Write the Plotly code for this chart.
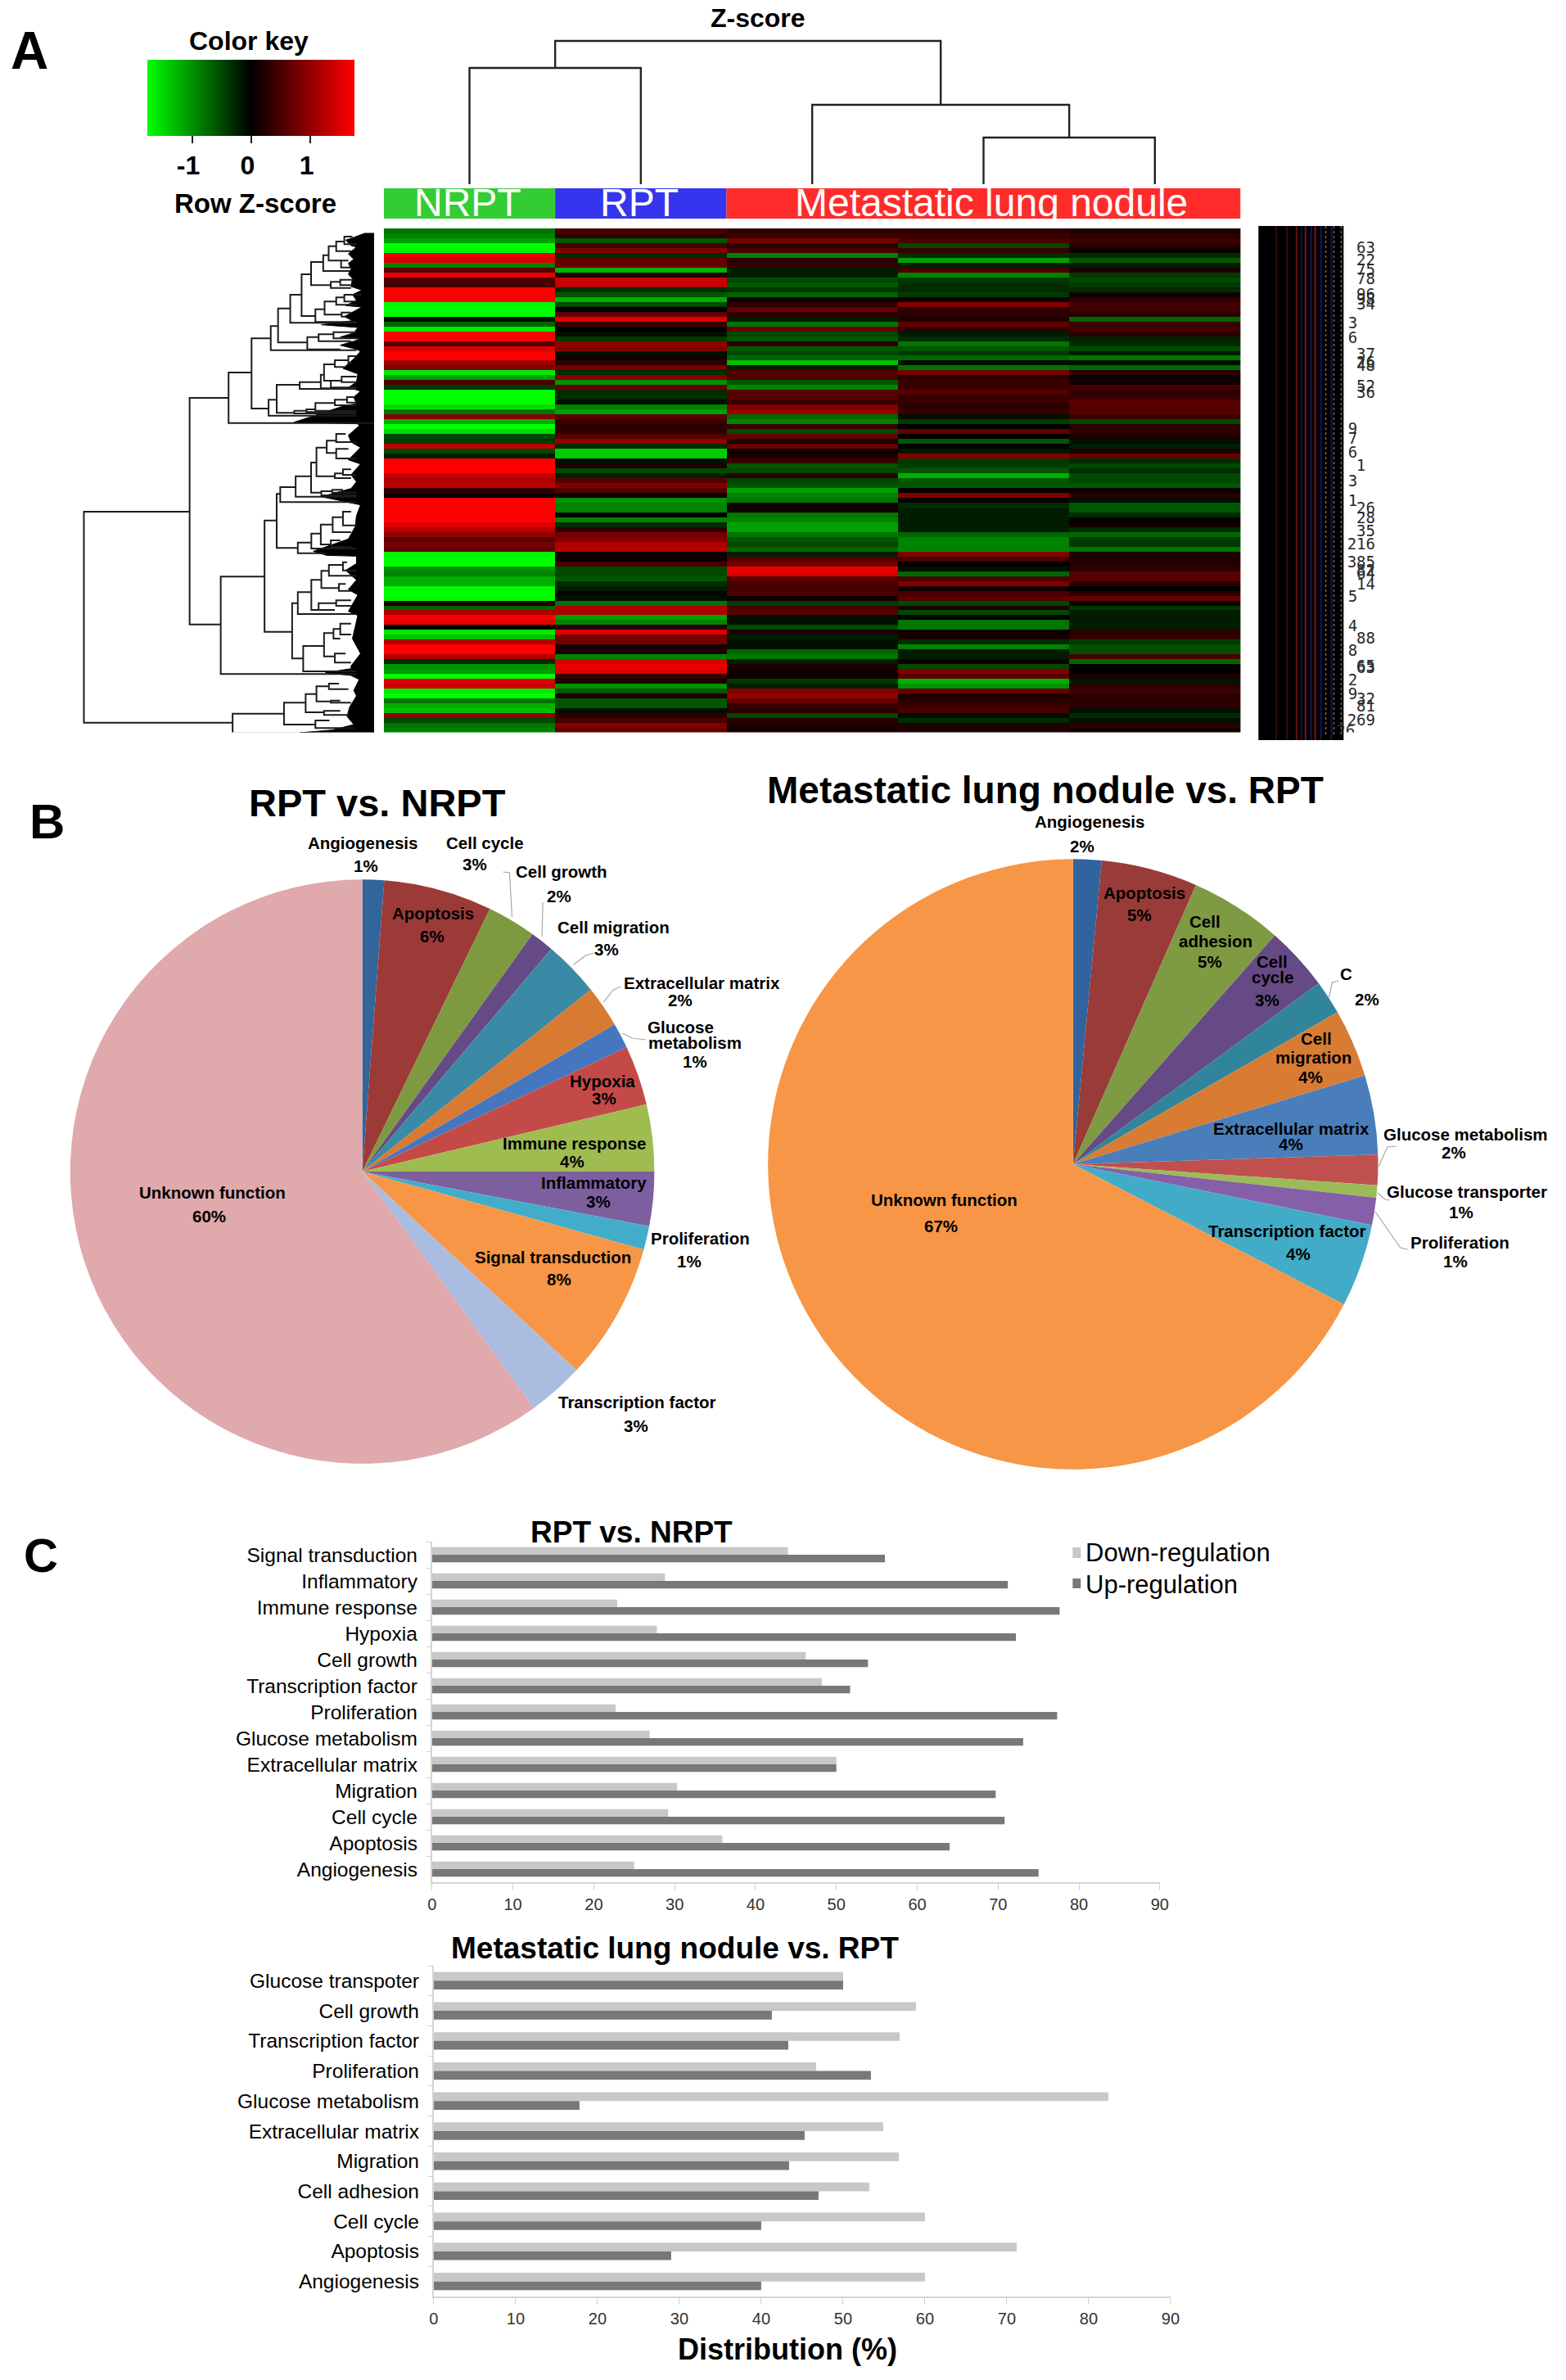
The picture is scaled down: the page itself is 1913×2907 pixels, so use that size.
import plotly.graph_objects as go

W, H = 1913, 2907
FONT = "Liberation Sans"

# ---------- Panel A: heat map (row Z-scores) ----------
columns = ["NRPT", "RPT", "Met 1", "Met 2", "Met 3"]
nrpt = [-.8,-.9,
 -1.1,-1.75,-1.7,1.6,1.5,-.9,.6,1.6,.5,.5,1.75,1.75,1.7,-1.7,-1.75,-1.75,-.1,-.7,-1.6,1.7,1.7,.6,1.5,1.75,1.75,1.1,.9,-1.6,-1.1,.5,-.4,-1.75,-1.75,-1.75,-1.5,-.8,
 .9,-1.2,-1.75,-1.5,-.5,-.4,1.3,-.5,-.2,1.75,1.75,1.75,1.3,1.2,1.3,.3,.1,1.75,1.75,1.75,1.7,1.75,1.5,1.3,1.0,.6,.8,.7,-1.7,-1.75,-1.75,-1.0,-.9,-1.2,-1.2,-1.7,
 -1.75,-1.7,.2,-.7,1.2,1.7,1.6,0,-1.6,-1.3,1.2,1.75,1.75,1.2,-.3,-1.0,-1.1,-1.75,1.5,1.4,-1.6,-1.75,-.8,-1.2,-1.3,1.0,-.5,-.8,-.9]
rpt = [.5,.3,
 -.6,.45,.9,-.3,.7,.7,-1.2,.2,1.4,1.3,-.3,-.6,-1.2,-.5,0,.7,1.5,.4,0,-.1,-.4,1.0,.9,-.1,.1,.3,.8,-.3,.9,-1.0,.7,-.3,-.3,-.1,-.9,-1.1,
 .6,.4,.3,.3,.6,1.0,-.3,-1.4,-1.4,-.1,.2,-.5,-.2,.6,.9,.6,.1,-1.0,-.9,-.9,0,-.9,-.3,.3,.8,.9,1.2,1.2,.1,.1,.5,-.5,-.5,-.6,-.3,-.2,
 -.05,-.1,-.8,1.2,1.2,-1.1,-.9,.3,1.5,.8,.8,.15,.15,-.9,1.5,1.6,1.5,.4,.15,-1.0,-.6,.2,-.6,-.6,-.1,.3,.5,.9,.7]
met1 = [.3,.4,
 .8,.3,.5,-.9,.3,.4,-.2,-.2,-.5,-.6,-.4,-.7,.1,.3,.7,.3,-.2,-.8,.7,-.5,-.6,.3,-.6,-.5,-.7,-1.3,-.2,.6,.5,-.6,-.9,.6,.6,.4,.9,1.0,
 -.7,-.9,.4,-.5,.7,.2,.7,.1,.15,.4,-.6,-.5,.3,-.5,-.6,-1.1,-.9,-.8,.1,.1,-.8,-.9,-1.1,-1.1,-.8,-.6,-.5,-.7,-.2,.6,.8,1.6,1.5,.6,.5,.5,
 .5,.1,-.4,.5,.6,-.1,-.1,-.5,.2,-.2,-.1,-.1,-.7,-.8,-.2,.2,.1,.1,-.4,-.2,.9,1.0,.7,.4,.3,-.5,.3,.15,.15]
met2 = [.3,.4,
 .5,-.5,.4,-.3,-1.1,-.2,.5,-.9,-.4,-.3,-.3,-.4,.1,.9,.3,.3,.2,.7,.3,-.2,-.3,-.8,-.6,-.4,-.7,-.1,-.8,.8,.3,.4,.4,.6,.4,.4,.3,.4,
 -.1,-.4,0,.7,0,-.6,0,-.15,.9,-.4,-.4,-.6,-1.2,-.6,-.6,0,.9,0,-.3,-.2,-.2,-.2,-.2,-.2,-.7,-.9,-.9,-.9,.9,.5,0,-.1,-.7,.5,.9,.1,
 .5,.6,-.5,.2,-.5,0,-.8,-.8,.1,.15,-.3,-.9,-.2,-.2,.1,-.5,.9,.6,-1.2,-1.0,.7,.2,.3,.4,.5,-.1,-.3,.2,.2]
met3 = [.2,.3,
 .4,.25,.1,-.3,-.6,-.2,.2,-.4,-.5,-.4,-.3,.1,.3,.45,.45,.3,-.7,.4,.45,.3,-.25,-.3,-.5,-.2,-.8,-.1,-.7,.3,.1,.1,.5,.3,.4,.6,.6,.6,
 .4,-.5,.3,.3,.2,-.1,-.2,.2,.7,-.3,-.5,-.3,-.5,-.5,-.6,.1,.3,-.1,-.6,-.6,-.3,.05,.1,-.3,-.7,-.4,-.4,-.8,.2,.2,.25,.3,.6,.6,.3,0,
 .3,.7,.1,-.4,-.2,-.2,-.2,-.2,.3,.35,-.4,-.55,-.55,.5,-.7,0,0,.2,-.15,.3,.4,.3,.3,.3,-.1,-.3,-.1,.3,.1]
assert all(len(c) == 103 for c in (nrpt, rpt, met1, met2, met3))

group_names = ["NRPT", "RPT", "Metastatic lung nodule"]
group_widths = [1, 1, 3]
group_starts = [-0.5, 0.5, 1.5]
group_colors = ["#33cc33", "#3535ee", "#ff2b2b"]

# column dendrogram: merge heights and their column positions
col_merge_height = [142, 57, 97, 175]
col_merge_left = [0, 3, 2, 0.5]
col_merge_right = [1, 4, 3.5, 2.75]
col_left_child = [0, 0, 0, 142]
col_right_child = [0, 0, 57, 97]

# row dendrogram links: parent, top, bottom, top child, bottom child
row_links = [
 (52,1020,1793,443,602),(443,603,1433,587,558),(587,510,695,672,1125),(672,385,642,743,735),
 (743,340,428,770,1060),(770,275,400,815,878),(815,225,328,857,1060),(857,150,303,892,908),
 (892,105,190,937,965),(937,80,138,957,1040),(957,47,100,985,1003),(985,30,65,1015,1040),
 (1015,12,40,1045,1060),(1003,100,125,1030,1040),(965,178,200,1000,1040),(1000,170,190,1050,1040),
 (908,278,325,942,1060),(942,250,298,985,1005),(985,235,262,1015,1060),(1015,225,250,1080,1060),
 (1005,290,305,1040,1020),(878,380,425,920,1000),(920,370,395,975,1040),(975,362,385,1060,1070),
 (735,610,668,765,1060),(765,555,658,850,830),(850,545,570,928,1060),(928,518,568,940,1060),
 (940,480,540,980,965),(980,465,490,1030,1015),(965,540,565,1005,1060),(1005,525,545,1060,1060),
 (1030,450,475,1060,1045),(830,650,660,875,1060),(875,645,655,908,1060),(908,622,650,980,1060),
 (980,610,630,1025,1060),(1025,600,620,1050,1060),
 (558,1258,1615,720,1060),(720,1052,1460,765,822),(765,955,1153,778,843),(778,930,985,835,1060),
 (835,890,965,892,1060),(892,840,950,912,930),(912,785,890,950,980),(950,760,805,985,985),
 (985,735,765,1020,1060),(985,790,825,1030,1060),(980,880,897,1010,1040),(1010,865,885,1040,1060),
 (930,945,960,970,1060),(970,940,950,1010,1060),(843,1133,1172,893,950),(893,1100,1155,928,1060),
 (928,1067,1140,972,965),(972,1040,1095,1010,1040),(1010,1020,1070,1040,1060),(965,1125,1150,1000,1040),
 (822,1355,1558,843,863),(843,1315,1395,893,1060),(893,1270,1380,930,920),(930,1237,1300,958,995),
 (958,1215,1255,1010,1060),(1010,1205,1235,1025,1060),(995,1285,1310,1020,1040),(920,1355,1380,985,980),
 (985,1345,1365,1040,1040),(863,1512,1605,940,1060),(940,1465,1550,975,980),(975,1450,1485,1000,1000),
 (1000,1430,1470,1040,1040),(980,1540,1573,1020,1040),
 (602,1760,1832,792,1125),(792,1720,1800,872,908),(872,1688,1755,912,940),(912,1660,1715,958,965),
 (958,1650,1670,995,1030),(965,1712,1720,1000,1040),(940,1750,1765,1000,1030),(908,1785,1813,960,1050),
]
# jagged outline of the merged leaf branches
leaf_edge = [
 (1125,0),(1090,0),(1050,15),(1020,25),(1040,45),(1060,50),(1030,75),(1050,95),(1030,110),(1040,130),
 (1030,150),(1045,165),(1040,195),(1080,208),(1045,225),(1060,245),(1020,265),(1080,270),(1015,305),
 (1045,320),(930,335),(1065,345),(1050,365),(1000,380),(1075,388),(1000,410),(1060,425),(1075,432),
 (1050,460),(1010,495),(1065,515),(1060,545),(1030,565),(1075,578),(1050,600),(1060,625),(1020,630),
 (900,670),(830,692),(1065,698),(1070,705),(1030,740),(1040,765),(1075,785),(1030,830),(1075,845),
 (1040,885),(1060,910),(1040,935),(930,965),(1060,990),(1075,995),(1060,1035),(1055,1075),(1030,1120),
 (900,1165),(950,1180),(1060,1183),(1060,1210),(1020,1235),(1060,1270),(1030,1305),(1065,1325),
 (1030,1385),(1065,1400),(1055,1445),(1045,1485),(1075,1540),(1040,1585),(1040,1595),(945,1610),
 (1040,1620),(1070,1635),(1050,1675),(1060,1695),(1035,1735),(1025,1770),(1050,1800),(970,1820),
 (850,1830),(1125,1833),
]
# row labels that stick out of the overprinted label column
row_label_text = ["63","22","75","78","96","98","34","37","26","48","52","36","1","26","28","35","216",
                  "385","82","64","14","88","65","63","32","81","269","26",
                  "3","6","9","7","6","3","1","5","4","8","2","9"]
row_label_rows = [3.8,6.3,8.3,10,13.3,14.3,15.2,25.5,27.2,27.9,32,33.3,48.2,57,59,61.6,64.3,68,
                  69.7,70.3,72.5,83.5,89.3,89.6,96,97.5,100.2,102.5,
                  19.2,22.1,40.7,42.7,45.6,51.5,55.4,75,81,86,92,95]
row_label_right = [1689,1689,1689,1689,1689,1689,1689,1689,1689,1689,1689,1689,1677,1689,1689,1689,1689,
                   1689,1689,1689,1689,1689,1689,1689,1689,1689,1689,1664,
                   1667,1667,1667,1667,1667,1667,1667,1667,1667,1667,1667,1667]

# ---------- Panel B: pies ----------
pie1_labels = ["Angiogenesis","Apoptosis","Cell cycle","Cell growth","Cell migration","Extracellular matrix",
               "Glucose metabolism","Hypoxia","Immune response","Inflammatory","Proliferation",
               "Signal transduction","Transcription factor","Unknown function"]
pie1_values = [1.2,6.0,2.7,1.3,3.1,2.3,1.4,3.3,3.7,3.0,1.3,7.6,3.1,60.0]
pie1_colors = ["#31659c","#9c3a38","#7e9a40","#664a85","#3a8aa6","#d87a32","#4477c0","#c44a48",
               "#9fbc50","#7d5fa0","#42adc9","#f79646","#aabce0","#e0a9ab"]
pie2_labels = ["Angiogenesis","Apoptosis","Cell adhesion","Cell cycle","C","Cell migration","Extracellular matrix",
               "Glucose metabolism","Glucose transporter","Proliferation","Transcription factor","Unknown function"]
pie2_values = [1.5,5.1,4.9,3.4,1.8,3.6,4.2,1.6,.65,1.45,4.4,67.4]
pie2_colors = ["#31649c","#983b39","#7e9a42","#654a85","#30859c","#d87c34","#4a7ebb","#c0504d",
               "#9bbb59","#8560a8","#42acc8","#f79646"]

pie_texts = [
 ("Angiogenesis",441,1029),("1%",445,1057),("Cell cycle",592,1029),("3%",579,1055),("Cell growth",686,1065),
 ("2%",683,1094),("Apoptosis",528,1115),("6%",527,1143),("Cell migration",750,1132),("3%",742,1159),
 ("Extracellular matrix",859,1201),("2%",832,1222),("Glucose",833,1255),("metabolism",851,1273),("1%",851,1296),
 ("Hypoxia",737,1320),("3%",739,1341),("Immune response",702,1396),("4%",699,1418),("Inflammatory",726,1444),
 ("3%",732,1468),("Proliferation",857,1512),("1%",844,1540),("Signal transduction",676,1535),("8%",683,1563),
 ("Transcription factor",779,1713),("3%",778,1741),("Unknown function",256,1456),("60%",252,1485),
 ("Angiogenesis",1337,1004),("2%",1328,1033),("Apoptosis",1404,1090),("5%",1398,1117),("Cell",1479,1126),
 ("adhesion",1492,1149),("5%",1485,1175),("Cell",1562,1174),("cycle",1562,1194),("3%",1556,1221),("C",1653,1189),
 ("2%",1679,1220),("Cell",1616,1269),("migration",1613,1291),("4%",1609,1316),("Extracellular matrix",1586,1378),
 ("4%",1585,1398),("Glucose metabolism",1800,1385),("2%",1786,1407),("Glucose transporter",1802,1455),
 ("1%",1795,1481),("Proliferation",1793,1517),("1%",1788,1540),("Transcription factor",1581,1503),("4%",1594,1531),
 ("Unknown function",1158,1465),("67%",1154,1497),
]
leader_lines = [
 [(614,1065),(622,1066),(625,1120)],[(663,1102),(662,1144)],[(726,1164),(716,1167),(701,1178)],
 [(759,1205),(750,1209),(738,1224)],[(790,1270),(773,1268),(761,1262)],[(1644,1198),(1636,1200),(1632,1218)],
 [(1715,1400),(1704,1401),(1693,1425)],[(1707,1466),(1701,1465),(1692,1457)],[(1729,1526),(1720,1524),(1689,1480)],
]

# ---------- Panel C: bars ----------
bar1_categories = ["Signal transduction","Inflammatory","Immune response","Hypoxia","Cell growth","Transcription factor",
                   "Proliferation","Glucose metabolism","Extracellular matrix","Migration","Cell cycle","Apoptosis","Angiogenesis"]
bar1_down = [44,28.8,22.9,27.8,46.2,48.2,22.7,26.9,50,30.3,29.2,35.9,25]
bar1_up = [56,71.2,77.6,72.2,53.9,51.7,77.3,73.1,50,69.7,70.8,64,75]
bar2_categories = ["Glucose transpoter","Cell growth","Transcription factor","Proliferation","Glucose metabolism",
                   "Extracellular matrix","Migration","Cell adhesion","Cell cycle","Apoptosis","Angiogenesis"]
bar2_down = [50,58.9,56.9,46.7,82.4,54.9,56.8,53.2,60,71.2,60]
bar2_up = [50,41.3,43.3,53.4,17.8,45.3,43.4,47,40,29,40]
LIGHT, DARK = "#c8c8c8", "#787878"


def dx(a, b):
    return [a / W, b / W]


def dy(top, bottom):
    return [1 - bottom / H, 1 - top / H]


def to_row(y_pic):
    """picture reading of the dendrogram -> heat-map row position"""
    return (285 + y_pic / 3 - 279) / (615.5 / 103) - 0.5


fig = go.Figure()

fig.add_trace(go.Heatmap(
    z=[list(r) for r in zip(nrpt, rpt, met1, met2, met3)], x=list(range(5)), y=list(range(103)),
    xaxis="x", yaxis="y", zmin=-1.75, zmax=1.75,
    colorscale=[[0, "#00ff00"], [0.5, "#000000"], [1, "#ff0000"]],
    colorbar=dict(orientation="h", x=303.5 / W, xanchor="center", y=1 - 73 / H, yanchor="top",
                  lenmode="pixels", len=253, thicknessmode="pixels", thickness=93, xpad=0, ypad=0,
                  outlinewidth=0, tickvals=[-1, 0, 1], ticktext=["-1&nbsp;", "0&nbsp;", "1&nbsp;"], ticks="outside",
                  ticklen=9, tickwidth=2, tickcolor="#222",
                  tickfont=dict(family=FONT, size=32, color="black", weight=700)),
))

# column dendrogram
cx, cy = [], []
for h, l, r, lc, rc in zip(col_merge_height, col_merge_left, col_merge_right, col_left_child, col_right_child):
    cx += [l, l, r, r, None]
    cy += [lc, h, h, rc, None]
fig.add_trace(go.Scatter(x=cx, y=cy, xaxis="x2", yaxis="y2", mode="lines", line=dict(color="#222", width=2.4),
                         hoverinfo="skip", showlegend=False))

# group colour bar
fig.add_trace(go.Bar(x=group_widths, base=group_starts, y=[0, 0, 0], width=1, orientation="h", xaxis="x3", yaxis="y3",
                     marker=dict(color=group_colors, line=dict(width=0)), showlegend=False, hovertext=group_names))

# row dendrogram
rx, ry = [], []
for p, t, b, ct, cb in row_links:
    rx += [ct, p, p, cb, None]
    ry += [to_row(t), to_row(t), to_row(b), to_row(b), None]
fig.add_trace(go.Scatter(x=[p[0] for p in leaf_edge] + [1125], y=[to_row(p[1]) for p in leaf_edge] + [to_row(0)],
                         xaxis="x4", yaxis="y", mode="lines", fill="toself", fillcolor="black",
                         line=dict(color="black", width=1), hoverinfo="skip", showlegend=False))
fig.add_trace(go.Scatter(x=rx, y=ry, xaxis="x4", yaxis="y", mode="lines", line=dict(color="#1c1c1c", width=2),
                         hoverinfo="skip", showlegend=False))

# overprinted row labels
fig.add_trace(go.Scatter(x=row_label_right, y=row_label_rows, text=row_label_text, xaxis="x7", yaxis="y", mode="text",
                         textposition="middle left", textfont=dict(family="DejaVu Sans Mono", size=19, color="#2a2a2a"),
                         hoverinfo="skip", showlegend=False))

# pies
fig.add_trace(go.Pie(labels=pie1_labels, values=pie1_values, sort=False, direction="clockwise", rotation=0,
                     marker=dict(colors=pie1_colors, line=dict(width=0)), textinfo="none", showlegend=False,
                     domain=dict(x=dx(440.5 - 360, 440.5 + 360), y=dy(1431 - 360, 1431 + 360))))
fig.add_trace(go.Pie(labels=pie2_labels, values=pie2_values, sort=False, direction="clockwise", rotation=0,
                     marker=dict(colors=pie2_colors, line=dict(width=0)), textinfo="none", showlegend=False,
                     domain=dict(x=dx(1316.5 - 376, 1316.5 + 376), y=dy(1422 - 376, 1422 + 376))))

# bars
for cats, down, up, xa, ya in ((bar1_categories, bar1_down, bar1_up, "x5", "y5"),
                               (bar2_categories, bar2_down, bar2_up, "x6", "y6")):
    fig.add_trace(go.Bar(y=cats, x=down, orientation="h", name="Down-regulation", marker=dict(color=LIGHT, line=dict(width=0)),
                         xaxis=xa, yaxis=ya, showlegend=False))
    fig.add_trace(go.Bar(y=cats, x=up, orientation="h", name="Up-regulation", marker=dict(color=DARK, line=dict(width=0)),
                         xaxis=xa, yaxis=ya, showlegend=False))

hidden = dict(visible=False, fixedrange=True)
bar_x = dict(range=[0, 90], dtick=10, ticks="outside", ticklen=8, tickcolor="#d0d0d0", linecolor="#d4d4d4", linewidth=2,
             showgrid=False, zeroline=False, tickfont=dict(family=FONT, size=20, color="#333"))
bar_y = dict(autorange="reversed", ticks="outside", ticklen=5, tickson="boundaries", tickcolor="#d0d0d0",
             linecolor="#d4d4d4", linewidth=2, showgrid=False, tickfont=dict(family=FONT, size=24.5, color="black"), ticklabelstandoff=11)

anns = []


def label(text, x, y, size, bold=True, color="black", anchor="center", family=FONT):
    anns.append(dict(text=text, x=x / W, y=1 - y / H, xref="paper", yref="paper", xanchor=anchor, yanchor="middle",
                     showarrow=False, font=dict(family=family, size=size, color=color, weight=700 if bold else 400)))


label("A", 30, 62, 64)
label("B", 52, 1004, 60)
label("C", 44, 1899, 58)
label("Color key", 301, 50, 32)
label("Row Z-score", 309, 249, 33)
label("Z-score", 928, 22, 32)
label("NRPT", 571, 247, 48, bold=False, color="white")
label("RPT", 782, 247, 48, bold=False, color="white")
label("Metastatic lung nodule", 1216, 247, 48, bold=False, color="white")
label("RPT vs. NRPT", 459, 980, 47)
label("Metastatic lung nodule vs. RPT", 1282, 965, 46)
for text, x, y in pie_texts:
    label(text, x, y, 20.5)
label("RPT vs. NRPT", 772, 1871, 37)
label("Metastatic lung nodule vs. RPT", 826, 2379, 37)
label("Distribution (%)", 965, 2869, 36)
label("Down-regulation", 1330, 1896, 31, bold=False, anchor="left")
label("Up-regulation", 1330, 1935, 31, bold=False, anchor="left")

shapes = []


def paper_rect(x0, y0, x1, y1, color):
    shapes.append(dict(type="rect", xref="paper", yref="paper", x0=x0 / W, x1=x1 / W, y0=1 - y0 / H, y1=1 - y1 / H,
                       fillcolor=color, line=dict(width=0), layer="below"))


def paper_vline(x, y0, y1, color, width=2, dash="solid"):
    shapes.append(dict(type="line", xref="paper", yref="paper", x0=x / W, x1=x / W, y0=1 - y0 / H, y1=1 - y1 / H,
                       line=dict(color=color, width=width, dash=dash)))


paper_rect(1316, 1890, 1326, 1903, LIGHT)
paper_rect(1316, 1928, 1326, 1940, DARK)
paper_rect(1545, 276, 1650, 904, "black")
for x, c in ((1567, "#3c0808"), (1580, "#400808"), (1592, "#6a1010"), (1598, "#10104a"), (1603, "#701520"),
             (1610, "#14145a"), (1615, "#801010"), (1622, "#14145a"), (1635, "#14145a")):
    paper_vline(x, 276, 904, c)
for x, c in ((1628, "#8a6440"), (1638, "#6c6a60"), (1647, "#6c6a60")):
    paper_vline(x, 276, 900, c, width=1.5, dash="dot")
for pts in leader_lines:
    path = "M " + " L ".join(f"{x/W:.5f},{1-y/H:.5f}" for x, y in pts)
    shapes.append(dict(type="path", xref="paper", yref="paper", path=path, line=dict(color="#a6a6a6", width=1.2)))

fig.update_layout(
    width=W, height=H, margin=dict(l=0, r=0, t=0, b=0), paper_bgcolor="white", plot_bgcolor="white",
    barmode="group", hovermode=False, showlegend=False, annotations=anns, shapes=shapes,
    font=dict(family=FONT),
    xaxis=dict(domain=dx(467, 1523), range=[-0.5, 4.5], **hidden),
    yaxis=dict(domain=dy(279, 894.5), range=[102.5, -0.5], **hidden),
    xaxis2=dict(domain=dx(467, 1523), range=[-0.5, 4.5], anchor="y2", **hidden),
    yaxis2=dict(domain=dy(40, 225), range=[0, 185], anchor="x2", **hidden),
    xaxis3=dict(domain=dx(467, 1523), range=[-0.5, 4.5], anchor="y3", **hidden),
    yaxis3=dict(domain=dy(230, 267), range=[-0.5, 0.5], anchor="x3", **hidden),
    xaxis4=dict(domain=dx(80, 455), range=[0, 1125], anchor="y", **hidden),
    xaxis7=dict(domain=dx(1530, 1700), range=[1530, 1700], anchor="y", **hidden),
    xaxis5=dict(domain=dx(526.5, 1423.5), anchor="y5", **bar_x),
    yaxis5=dict(domain=dy(1883, 2299), anchor="x5", **bar_y),
    xaxis6=dict(domain=dx(528.6, 1436.7), anchor="y6", **bar_x),
    yaxis6=dict(domain=dy(2401, 2805), anchor="x6", **bar_y),
    bargap=0.42, bargroupgap=0,
)

fig.write_html("out.html", config=dict(displayModeBar=False),
               post_script="document.body.style.margin='0';document.body.style.overflow='hidden';")
